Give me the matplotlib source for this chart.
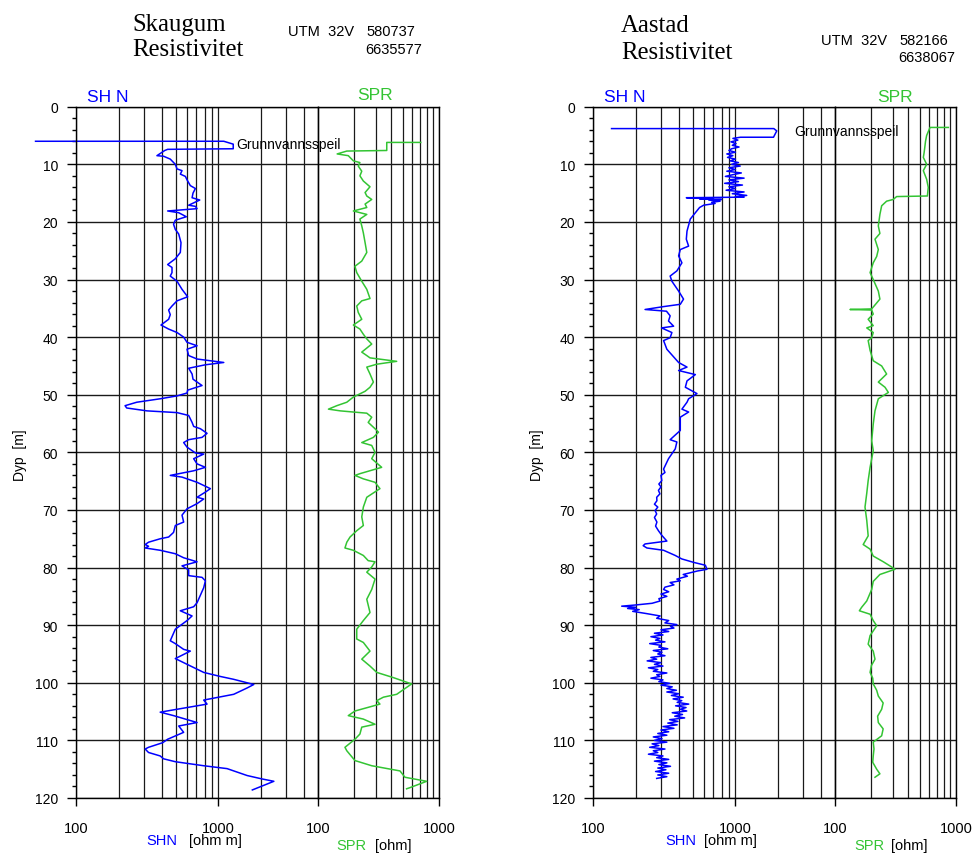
import matplotlib
matplotlib.use('Agg')
import matplotlib.pyplot as plt
from matplotlib.ticker import FixedLocator, NullFormatter

# Skaugum - SHN (depth m, ohm m)
skaugum_shn_depth = [6.0, 6.0, 6.5, 7.3, 7.4, 7.6, 8.5, 8.6, 9.1, 10.0, 10.8, 11.1, 11.7, 12.1, 12.7, 13.7,
                     14.2, 15.0, 15.8, 16.2, 17.1, 17.3, 17.7, 18.1, 18.4, 19.1, 19.7, 20.4, 21.3, 22.1, 23.6,
                     25.3, 26.4, 27.4, 27.9, 28.8, 29.4, 30.3, 31.7, 33.0, 33.7, 34.6, 35.3, 36.1, 36.9, 37.9,
                     38.6, 39.2, 40.0, 40.9, 41.5, 42.1, 43.2, 43.8, 44.4, 44.8, 45.4, 46.4, 47.3, 48.4, 49.2,
                     49.7, 50.2, 50.7, 51.3, 51.9, 52.3, 52.8, 53.1, 53.6, 54.8, 55.5, 55.9, 56.7, 57.4, 57.8,
                     58.3, 59.1, 59.7, 60.1, 60.3, 61.1, 62.0, 62.6, 63.2, 64.0, 64.3, 65.2, 66.3, 66.9, 67.8,
                     68.1, 68.9, 69.8, 70.9, 72.1, 72.7, 73.9, 74.7, 75.0, 75.6, 76.0, 76.3, 76.6, 77.0, 77.6,
                     78.3, 79.0, 79.7, 80.4, 81.4, 81.7, 82.3, 83.5, 86.1, 86.8, 87.5, 88.4, 89.2, 90.7, 92.7,
                     93.2, 94.2, 94.5, 95.8, 96.8, 98.2, 98.9, 99.4, 100.3, 100.9, 102.0, 103.0, 103.7, 105.1,
                     105.7, 106.9, 107.5, 108.6, 109.8, 110.4, 111.2, 111.5, 112.1, 112.7, 113.2, 113.7, 114.4,
                     114.9, 116.1, 116.7, 117.1, 117.9, 118.6]
skaugum_shn = [52, 1090, 1270, 1270, 440, 420, 370, 412, 459, 498, 512, 555, 540, 586, 602, 635,
               689, 663, 653, 739, 618, 689, 708, 440, 526, 595, 498, 484, 498, 526, 546,
               540, 498, 440, 472, 472, 459, 512, 555, 608, 512, 472, 447, 459, 447, 395,
               447, 512, 570, 602, 708, 602, 618, 708, 1090, 810, 618, 653, 663, 767, 608,
               602, 512, 390, 267, 221, 227, 315, 512, 618, 653, 670, 747, 832, 767, 618,
               570, 602, 653, 689, 788, 670, 708, 810, 670, 459, 555, 708, 878, 810, 708,
               788, 708, 602, 555, 570, 498, 484, 447, 390, 323, 306, 323, 306, 390, 498,
               570, 708, 555, 618, 618, 767, 810, 788, 708, 670, 540, 653, 602, 498, 459,
               498, 570, 635, 498, 602, 788, 1030, 1280, 1770, 1590, 1280, 788, 832, 390,
               484, 708, 526, 570, 440, 406, 323, 306, 323, 390, 412, 498, 788,
               1150, 1590, 2030, 2450, 2030, 1730]

# Skaugum - SPR (depth m, ohm)
skaugum_spr_depth = [6.2, 6.2, 7.6, 7.7, 8.2, 8.5, 9.4, 9.7, 10.3, 11.2, 12.0, 12.9, 13.9, 14.9, 15.5, 16.1,
                     16.9, 17.5, 18.1, 18.7, 19.5, 20.7, 21.9, 23.6, 25.3, 26.8, 27.7, 28.8, 30.3, 31.7, 33.3,
                     33.7, 34.6, 35.7, 36.9, 37.9, 38.6, 39.5, 40.3, 41.2, 42.6, 43.2, 43.6, 44.2, 44.7, 45.2,
                     46.4, 47.8, 48.7, 49.4, 50.4, 51.3, 51.9, 52.5, 52.8, 53.0, 53.2, 53.9, 54.8, 55.9, 56.5,
                     57.4, 58.3, 58.8, 60.0, 61.1, 62.6, 63.7, 64.0, 64.6, 65.2, 66.3, 67.8, 69.5, 71.2, 72.7,
                     73.6, 74.7, 75.6, 76.6, 77.0, 77.9, 78.8, 79.0, 79.9, 80.8, 82.0, 83.8, 85.5, 87.8, 89.2,
                     90.7, 92.4, 93.0, 94.5, 95.9, 97.1, 98.2, 99.1, 100.2, 100.8, 102.0, 102.5, 103.1, 103.7,
                     104.9, 105.7, 106.3, 107.2, 107.7, 108.9, 109.8, 111.2, 111.8, 113.5, 114.4, 115.3, 116.4,
                     117.1, 118.2, 118.4]
skaugum_spr = [706, 370, 370, 173, 144, 178, 196, 222, 215, 230, 222, 237, 269, 245, 253, 278,
               245, 253, 196, 253, 222, 230, 237, 245, 253, 230, 202, 209, 230, 253, 269,
               230, 209, 215, 230, 196, 222, 237, 253, 278, 230, 253, 269, 447, 306, 253,
               269, 287, 269, 245, 196, 173, 143, 122, 153, 196, 253, 278, 260, 296, 316,
               287, 230, 278, 296, 278, 336, 222, 202, 237, 296, 325, 253, 237, 230, 237,
               209, 184, 173, 167, 196, 237, 260, 296, 278, 253, 296, 278, 253, 269, 237,
               209, 209, 237, 269, 230, 269, 306, 419, 594, 540, 447, 347, 306, 325,
               202, 178, 237, 296, 230, 222, 202, 167, 173, 202, 278, 476, 523,
               791, 576, 540]

# Aastad - SHN (depth m, ohm m)
aastad_shn_depth = [3.8, 3.8, 4.2, 5.3, 5.3, 5.5, 5.8, 6.1, 6.4, 6.7, 7.0, 7.3, 7.6, 7.9, 8.2, 8.5, 8.8, 9.1,
                    9.4, 9.7, 10.0, 10.3, 10.6, 10.9, 11.2, 11.5, 11.8, 12.1, 12.4, 12.7, 13.0, 13.3, 13.6,
                    13.9, 14.2, 14.5, 14.8, 15.1, 15.4, 15.6, 15.7, 15.8, 15.9, 16.0, 16.1, 16.2, 16.4, 16.6,
                    16.8, 17.1, 17.5, 18.4, 19.5, 20.5, 21.6, 23.0, 24.2, 24.8, 25.9, 27.1, 28.5, 29.4, 30.3,
                    32.0, 33.4, 34.3, 34.7, 35.2, 35.5, 36.3, 37.2, 38.1, 38.4, 39.2, 40.1, 40.6, 42.1, 44.4,
                    45.2, 45.8, 46.5, 47.6, 48.7, 49.8, 50.7, 51.3, 52.5, 53.0, 53.9, 56.2, 57.8, 58.2, 59.4,
                    61.1, 62.9, 63.5, 64.0, 64.9, 65.5, 66.0, 66.6, 67.2, 67.8, 68.4, 69.0, 69.5, 70.1, 70.7,
                    71.3, 72.1, 72.8, 73.6, 74.4, 75.4, 75.9, 76.2, 76.6, 77.0, 77.9, 78.5, 79.1, 79.6, 80.3,
                    80.6, 80.9, 81.2, 81.5, 82.0, 82.3, 82.6, 83.0, 83.4, 83.8, 84.2, 84.6, 85.0, 85.4, 85.8,
                    86.2, 86.5, 86.7, 86.9, 87.1, 87.3, 87.6, 88.0, 88.4, 88.8, 89.2, 89.6, 89.9, 90.2, 90.5,
                    90.8, 91.1, 91.4, 91.7, 92.0, 92.3, 92.6, 92.9, 93.2, 93.5, 93.8, 94.1, 94.4, 94.7, 95.0,
                    95.3, 95.6, 95.9, 96.2, 96.5, 96.8, 97.1, 97.4, 97.7, 98.0, 98.3, 98.6, 98.9, 99.2, 99.5,
                    99.8, 100.1, 100.4, 100.7, 101.0, 101.3, 101.6, 101.9, 102.2, 102.5, 102.8, 103.1, 103.4,
                    103.7, 104.0, 104.3, 104.6, 104.9, 105.2, 105.5, 105.8, 106.1, 106.4, 106.7, 107.0, 107.3,
                    107.6, 107.9, 108.2, 108.5, 108.8, 109.1, 109.4, 109.7, 110.0, 110.3, 110.6, 110.9, 111.2,
                    111.5, 111.8, 112.1, 112.4, 112.7, 113.0, 113.3, 113.6, 113.9, 114.2, 114.5, 114.8, 115.1,
                    115.4, 115.7, 116.0, 116.3, 116.6]
aastad_shn = [135, 1860, 1950, 1850, 1085, 960, 1040, 930, 1010, 950, 1060, 940, 900, 1000, 870, 960, 880, 1000,
              920, 1050, 940, 1080, 900, 1000, 870, 1100, 960, 850, 1150, 900, 1050, 840, 1120,
              900, 1000, 860, 1150, 950, 1200, 1000, 1150, 452, 700, 560, 800, 650, 780, 680,
              720, 598, 560, 523, 482, 470, 457, 452, 469, 410, 399, 421, 388, 348, 358,
              399, 432, 410, 313, 232, 328, 348, 339, 368, 303, 358, 348, 313, 330, 399,
              457, 399, 523, 457, 445, 537, 469, 457, 421, 469, 410, 410, 348, 388, 378,
              339, 313, 320, 300, 304, 290, 300, 288, 295, 280, 281, 270, 285, 273, 280,
              270, 281, 275, 288, 304, 330, 232, 225, 239, 313, 378, 420, 509, 615, 631,
              540, 482, 430, 460, 388, 410, 348, 370, 320, 313, 340, 300, 330, 290, 296,
              260, 198, 159, 200, 175, 211, 190, 239, 296, 280, 340, 320, 388, 350, 370,
              300, 340, 270, 310, 255, 295, 275, 320, 250, 300, 290, 335, 265, 305, 285,
              320, 255, 280, 240, 300, 270, 310, 245, 285, 265, 330, 280, 295, 255, 310,
              290, 345, 300, 360, 330, 385, 330, 400, 355, 430, 365, 420, 390,
              470, 380, 450, 410, 455, 360, 425, 375, 440, 345, 395, 335, 390,
              310, 370, 300, 340, 285, 330, 265, 305, 270, 330, 260, 290, 250,
              320, 265, 285, 245, 310, 280, 340, 270, 330, 290, 350, 285, 325,
              275, 340, 285, 330, 280]

# Aastad - SPR (depth m, ohm)
aastad_spr_depth = [3.6, 3.6, 5.0, 6.0, 6.8, 8.0, 8.8, 10.0, 11.1, 12.6, 14.0, 15.5, 15.6, 16.1, 16.4, 17.2,
                    18.7, 20.7, 22.0, 23.0, 24.8, 26.0, 27.1, 28.8, 30.0, 32.0, 33.4, 35.1, 35.2, 35.3, 36.0,
                    36.9, 38.0, 38.4, 39.2, 40.1, 40.6, 42.3, 44.1, 45.0, 46.4, 47.8, 48.7, 49.6, 50.7, 52.8,
                    55.1, 58.0, 59.7, 62.6, 64.9, 67.1, 69.5, 71.8, 74.5, 76.0, 76.8, 78.0, 79.0, 79.9, 80.3,
                    81.2, 82.4, 83.8, 85.8, 86.9, 87.5, 88.1, 89.2, 90.1, 91.8, 93.3, 94.5, 95.9, 97.0, 98.2,
                    99.2, 100.2, 101.3, 102.3, 103.5, 104.6, 105.8, 106.9, 108.0, 109.2, 110.3, 111.5, 112.7,
                    113.8, 115.0, 115.8, 116.4]
aastad_spr = [864, 610, 572, 560, 554, 545, 537, 572, 537, 572, 590, 580, 323, 303, 267, 243,
              235, 228, 235, 214, 228, 221, 207, 195, 207, 228, 235, 201, 133, 201, 207,
              188, 207, 183, 207, 201, 188, 195, 207, 243, 267, 228, 259, 276, 228, 214,
              207, 201, 207, 195, 188, 183, 177, 183, 188, 171, 195, 207, 251, 294, 313,
              235, 207, 201, 183, 166, 159, 195, 207, 221, 195, 188, 207, 214, 200, 195,
              205, 207, 221, 228, 250, 243, 225, 228, 250, 243, 207, 210, 207,
              205, 221, 235, 214]

W, H = 974, 854
TOP, BOT = 107.7, 799.0
BLUE = '#0000ff'
GREEN = '#33c433'
SANS = 'Liberation Sans'
SERIF = 'Liberation Serif'

fig = plt.figure(figsize=(W / 100, H / 100), dpi=100)


def fx(px):
    return px / W


def fy(py):
    return 1 - py / H


def style_axis(ax, xmax, minors, left_labels):
    ax.set_xscale('log')
    ax.set_xlim(100, xmax)
    ax.set_ylim(120, 0)
    ax.xaxis.set_major_locator(FixedLocator([100, 1000]))
    ax.set_xticklabels(['100', '1000'])
    ax.xaxis.set_minor_locator(FixedLocator(minors))
    ax.xaxis.set_minor_formatter(NullFormatter())
    ax.set_yticks(range(0, 121, 10))
    ax.yaxis.set_minor_locator(FixedLocator(range(0, 121, 2)))
    ax.grid(True, which='both', axis='x', color='#1a1a1a', lw=0.9)
    ax.grid(True, which='major', axis='y', color='#1a1a1a', lw=1.0)
    ax.tick_params(axis='x', which='major', direction='out', length=5.8, width=1,
                   pad=10.5, labelsize=10.5)
    ax.tick_params(axis='x', which='minor', length=0)
    for lab in ax.get_xticklabels():
        lab.set_fontfamily(SANS)
    if left_labels:
        ax.tick_params(axis='y', which='major', direction='out', length=6.5, width=1,
                       pad=6.5, labelsize=10)
        ax.tick_params(axis='y', which='minor', direction='out', length=3.2, width=1)
        for lab in ax.get_yticklabels():
            lab.set_fontfamily(SANS)
    else:
        ax.tick_params(axis='y', which='both', length=0, labelleft=False)
    for s in ax.spines.values():
        s.set_linewidth(1.0)
    ax.set_axisbelow(True)


def panel(x0, xs, x1, shn_d, shn_v, spr_d, spr_v):
    h = (BOT - TOP) / H
    ax1 = fig.add_axes([fx(x0), fy(BOT), (xs - x0) / W, h])
    ax2 = fig.add_axes([fx(xs), fy(BOT), (x1 - xs) / W, h])
    style_axis(ax1, 5000, [200, 300, 400, 500, 600, 700, 800, 900, 2000, 3000, 4000], True)
    style_axis(ax2, 1000, [200, 300, 400, 500, 600, 700, 800, 900], False)
    ax1.plot(shn_v, shn_d, color=BLUE, lw=1.1, clip_on=False)
    ax2.plot(spr_v, spr_d, color=GREEN, lw=1.1)
    return ax1, ax2


panel(76, 318, 439, skaugum_shn_depth, skaugum_shn, skaugum_spr_depth, skaugum_spr)
panel(593, 835, 956, aastad_shn_depth, aastad_shn, aastad_spr_depth, aastad_spr)


def txt(px, py, s, **kw):
    kw.setdefault('family', SANS)
    kw.setdefault('va', 'baseline')
    fig.text(fx(px), fy(py), s, **kw)


# titles
txt(132, 31.5, 'Skaugum', family=SERIF, fontsize=17.8)
txt(132, 56.5, 'Resistivitet', family=SERIF, fontsize=17.8)
txt(288, 36, 'UTM  32V', fontsize=10.5)
txt(366, 36, '580737', fontsize=10.5)
txt(365, 53.5, '6635577', fontsize=10.5)

txt(621, 32, 'Aastad', family=SERIF, fontsize=17.8)
txt(621, 59, 'Resistivitet', family=SERIF, fontsize=17.8)
txt(821, 45, 'UTM  32V', fontsize=10.5)
txt(899, 45, '582166', fontsize=10.5)
txt(898, 62.5, '6638067', fontsize=10.5)

# curve headers
txt(87, 102.5, 'SH N', color=BLUE, fontsize=12.5)
txt(357, 100.5, 'SPR', color=GREEN, fontsize=12.5)
txt(604, 102.5, 'SH N', color=BLUE, fontsize=12.5)
txt(877, 101.5, 'SPR', color=GREEN, fontsize=12.5)

# water table
txt(236, 145, 'Grunnvannsspeil', fontsize=10, va='center')
txt(794, 132, 'Grunnvannsspeil', fontsize=10, va='center')

# depth labels
txt(20, 455, 'Dyp  [m]', fontsize=10, rotation=90, va='center', ha='center')
txt(537, 455, 'Dyp  [m]', fontsize=10, rotation=90, va='center', ha='center')

# axis unit labels
txt(146, 845, 'SHN', color=BLUE, fontsize=10.5)
txt(189, 845, '[ohm m]', fontsize=10.5)
txt(336, 850, 'SPR', color=GREEN, fontsize=10.5)
txt(375, 850, '[ohm]', fontsize=10.5)
txt(665, 845, 'SHN', color=BLUE, fontsize=10.5)
txt(704, 845, '[ohm m]', fontsize=10.5)
txt(854, 850, 'SPR', color=GREEN, fontsize=10.5)
txt(891, 850, '[ohm]', fontsize=10.5)

fig.savefig('out.png', dpi=100)
